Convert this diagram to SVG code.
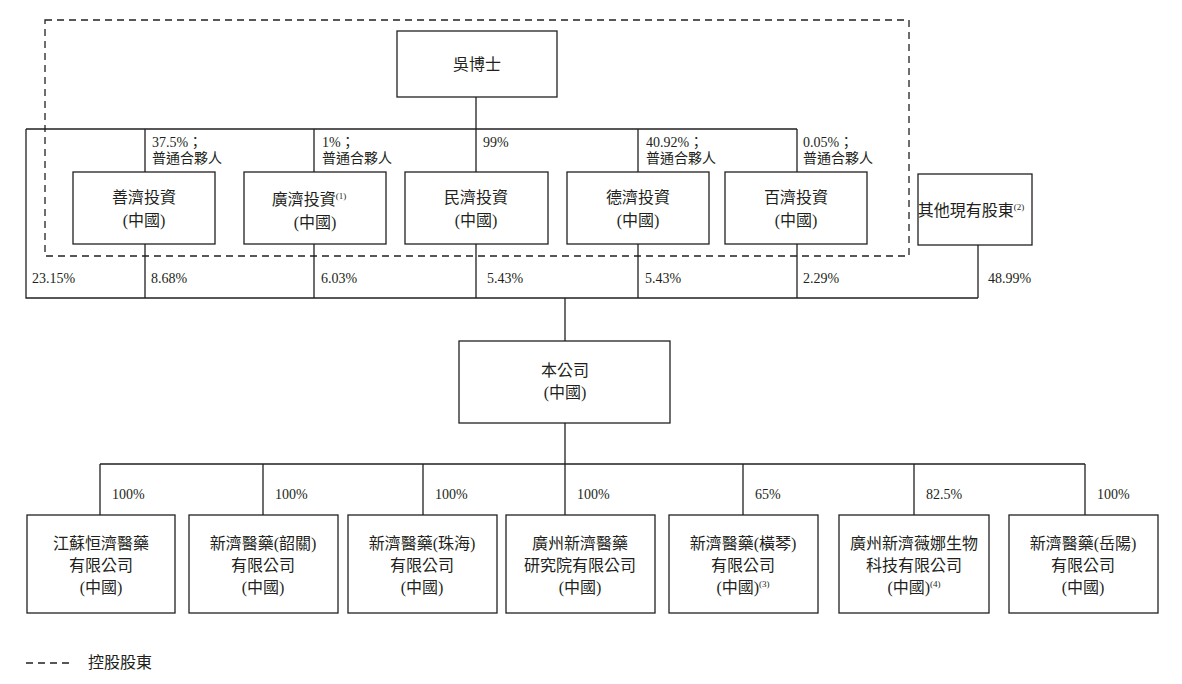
<svg xmlns="http://www.w3.org/2000/svg" width="1182" height="684" viewBox="0 0 1182 684">
<style>
text{font-family:"Liberation Serif","Noto Sans CJK TC",serif;fill:#231f20}
.b{fill:#fff;stroke:#231f20;stroke-width:1.3}
.n{font-size:16px;text-anchor:middle}
.p{font-size:14px}
.s{font-size:9px}
.l{fill:none;stroke:#231f20;stroke-width:1.3}
.d{fill:none;stroke:#231f20;stroke-width:1.3;stroke-dasharray:7,5}
</style>
<rect width="1182" height="684" fill="#fff"/>
<g id="connectors">
<path class="d" d="M45 20H909V256H45Z"/>
<path class="l" d="M476 97V129M26 129H797M145 129V172M314 129V172M476 129V172M638 129V172M797 129V172M26 129V298H978M145 244V298M314 244V298M476 244V298M638 244V298M797 244V298M978 245V298M565 298V341M565 423V464M100 464H1085M100 464V515M263 464V515M423 464V515M565 464V515M743 464V515M914 464V515M1085 464V515"/>
</g>
<g class="p">
<text x="152" y="147">37.5%；</text><text x="152" y="163">普通合夥人</text>
<text x="322" y="147">1%；</text><text x="322" y="163">普通合夥人</text>
<text x="483" y="147">99%</text>
<text x="646" y="147">40.92%；</text><text x="646" y="163">普通合夥人</text>
<text x="803" y="147">0.05%；</text><text x="803" y="163">普通合夥人</text>
<text x="32" y="283">23.15%</text><text x="151" y="283">8.68%</text><text x="321" y="283">6.03%</text><text x="487" y="283">5.43%</text><text x="645" y="283">5.43%</text><text x="803" y="283">2.29%</text><text x="988" y="283">48.99%</text>
<text x="112" y="499">100%</text><text x="275" y="499">100%</text><text x="435" y="499">100%</text><text x="577" y="499">100%</text><text x="755" y="499">65%</text><text x="926" y="499">82.5%</text><text x="1097" y="499">100%</text>
</g>
<g id="wu"><rect class="b" x="397" y="31" width="160" height="66"/><text class="n" x="477" y="70">吳博士</text></g>
<g id="shanji"><rect class="b" x="73" y="172" width="142" height="72"/><text class="n" x="144" y="203">善濟投資</text><text class="n" x="144" y="226">(中國)</text></g>
<g id="guangji"><rect class="b" x="244" y="172" width="142" height="72"/><text class="n" x="309" y="205">廣濟投資<tspan class="s" dy="-6">(1)</tspan></text><text class="n" x="315" y="228">(中國)</text></g>
<g id="minji"><rect class="b" x="405" y="172" width="143" height="72"/><text class="n" x="476" y="203">民濟投資</text><text class="n" x="476" y="226">(中國)</text></g>
<g id="deji"><rect class="b" x="567" y="172" width="142" height="72"/><text class="n" x="638" y="203">德濟投資</text><text class="n" x="638" y="226">(中國)</text></g>
<g id="baiji"><rect class="b" x="725" y="172" width="142" height="72"/><text class="n" x="796" y="203">百濟投資</text><text class="n" x="796" y="226">(中國)</text></g>
<g id="other"><rect class="b" x="918" y="174" width="114" height="71"/><text class="n" x="971" y="216">其他現有股東<tspan class="s" dy="-6">(2)</tspan></text></g>
<g id="company"><rect class="b" x="459" y="341" width="211" height="82"/><text class="n" x="565" y="376">本公司</text><text class="n" x="565" y="398">(中國)</text></g>
<g id="c1"><rect class="b" x="27" y="515" width="148" height="98"/><text class="n" x="101" y="549">江蘇恒濟醫藥</text><text class="n" x="101" y="571">有限公司</text><text class="n" x="101" y="593">(中國)</text></g>
<g id="c2"><rect class="b" x="189" y="515" width="149" height="98"/><text class="n" x="263" y="549">新濟醫藥(韶關)</text><text class="n" x="263" y="571">有限公司</text><text class="n" x="263" y="593">(中國)</text></g>
<g id="c3"><rect class="b" x="348" y="515" width="149" height="98"/><text class="n" x="422" y="549">新濟醫藥(珠海)</text><text class="n" x="422" y="571">有限公司</text><text class="n" x="422" y="593">(中國)</text></g>
<g id="c4"><rect class="b" x="506" y="515" width="149" height="98"/><text class="n" x="580" y="549">廣州新濟醫藥</text><text class="n" x="580" y="571">研究院有限公司</text><text class="n" x="580" y="593">(中國)</text></g>
<g id="c5"><rect class="b" x="669" y="515" width="149" height="98"/><text class="n" x="743" y="549">新濟醫藥(橫琴)</text><text class="n" x="743" y="571">有限公司</text><text class="n" x="743" y="593">(中國)<tspan class="s" dy="-6">(3)</tspan></text></g>
<g id="c6"><rect class="b" x="839" y="515" width="150" height="98"/><text class="n" x="914" y="549">廣州新濟薇娜生物</text><text class="n" x="914" y="571">科技有限公司</text><text class="n" x="914" y="593">(中國)<tspan class="s" dy="-6">(4)</tspan></text></g>
<g id="c7"><rect class="b" x="1009" y="515" width="149" height="98"/><text class="n" x="1083" y="549">新濟醫藥(岳陽)</text><text class="n" x="1083" y="571">有限公司</text><text class="n" x="1083" y="593">(中國)</text></g>
<g id="legend"><path class="d" d="M26 663H72"/><text class="p" x="88" y="668" style="font-size:16px">控股股東</text></g>
</svg>
